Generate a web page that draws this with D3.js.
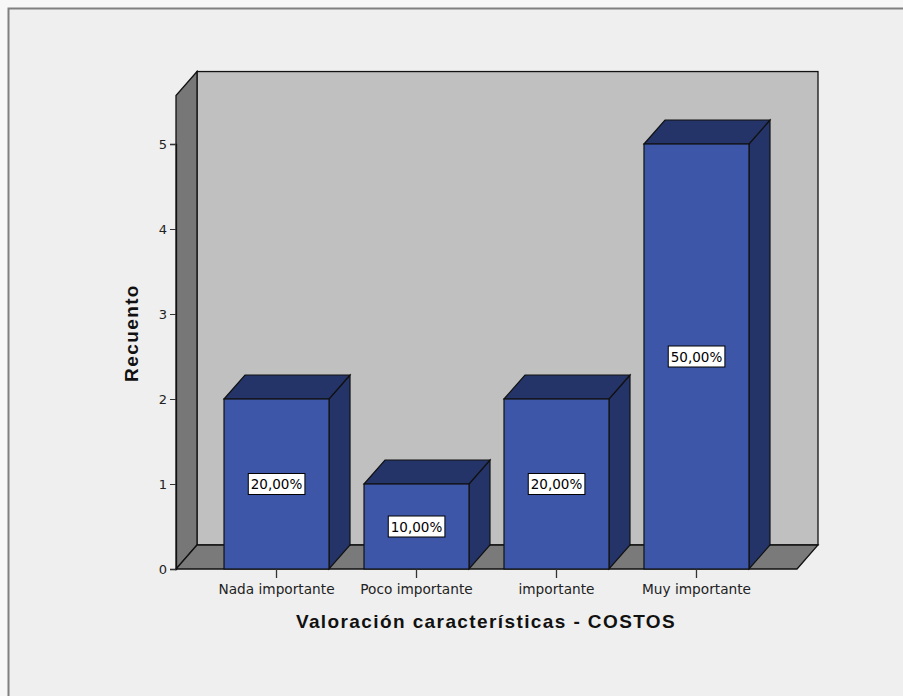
<!DOCTYPE html>
<html>
<head>
<meta charset="utf-8">
<script src="https://cdn.jsdelivr.net/npm/d3@7/dist/d3.min.js"></script>
<style>
  html, body { margin: 0; padding: 0; background: #f7f7f7; }
  svg { display: block; font-family: "DejaVu Sans", Verdana, sans-serif; }
</style>
</head>
<body>
<svg id="chart" width="903" height="696"></svg>
<script>
// Valoración características - COSTOS: recuento por categoría
const categories = ["Nada importante", "Poco importante", "importante", "Muy importante"];
const counts = [2, 1, 2, 5];
const percentLabels = ["20,00%", "10,00%", "20,00%", "50,00%"];
const yTicks = [0, 1, 2, 3, 4, 5];

const FONT = "DejaVu Sans, Verdana, sans-serif";
const TITLE_FONT = "Liberation Sans, Arial, sans-serif";
const svg = d3.select("#chart");

// outer panel
svg.append("rect").attr("x", 8.5).attr("y", 8.5).attr("width", 900).attr("height", 700)
  .attr("fill", "#efefef").attr("stroke", "#808080").attr("stroke-width", 2);

// plot frame (front plane) and 3D depth offset
const x0 = 176, x1 = 797, yBase = 569;
const dx = 21, dy = -24;

const y = d3.scaleLinear().domain([0, 5]).range([yBase, 144]);
const yTop = y(5.57); // top of the walls
const x = d3.scaleBand().domain(categories).range([x0, x1]).paddingInner(0.25).paddingOuter(0.343);

const line = "#111";

// back wall
svg.append("rect").attr("x", x0 + dx).attr("y", yTop + dy)
  .attr("width", x1 - x0).attr("height", yBase - yTop)
  .attr("fill", "#c0c0c0").attr("stroke", line).attr("stroke-width", 1.3);

// left wall
svg.append("path")
  .attr("d", `M${x0},${yBase} L${x0},${yTop} L${x0 + dx},${yTop + dy} L${x0 + dx},${yBase + dy} Z`)
  .attr("fill", "#777777").attr("stroke", line).attr("stroke-width", 1.3);

// floor
svg.append("path")
  .attr("d", `M${x0},${yBase} L${x1},${yBase} L${x1 + dx},${yBase + dy} L${x0 + dx},${yBase + dy} Z`)
  .attr("fill", "#7a7a7a").attr("stroke", line).attr("stroke-width", 1.3);

// bars
const bw = x.bandwidth();
const bars = svg.append("g").selectAll("g").data(categories).join("g");
bars.each(function(c, i) {
  const g = d3.select(this);
  const bx = x(c), top = y(counts[i]);
  // right side face
  g.append("path")
    .attr("d", `M${bx + bw},${yBase} L${bx + bw},${top} L${bx + bw + dx},${top + dy} L${bx + bw + dx},${yBase + dy} Z`)
    .attr("fill", "#243468").attr("stroke", line).attr("stroke-width", 1.2);
  // top face
  g.append("path")
    .attr("d", `M${bx},${top} L${bx + dx},${top + dy} L${bx + bw + dx},${top + dy} L${bx + bw},${top} Z`)
    .attr("fill", "#243468").attr("stroke", line).attr("stroke-width", 1.2);
  // front face
  g.append("rect").attr("x", bx).attr("y", top).attr("width", bw).attr("height", yBase - top)
    .attr("fill", "#3d56a8").attr("stroke", line).attr("stroke-width", 1.2);
});

// value labels
bars.each(function(c, i) {
  const g = d3.select(this);
  const cx = x(c) + bw / 2;
  const cy = (y(counts[i]) + yBase) / 2;
  const t = g.append("text").attr("x", cx).attr("y", cy + 5)
    .attr("text-anchor", "middle").attr("font-size", 13.5).attr("fill", "#000")
    .attr("font-family", FONT)
    .text(percentLabels[i]);
  const bb = t.node().getBBox();
  g.insert("rect", "text").attr("x", bb.x - 2.5).attr("y", cy - 10.5)
    .attr("width", bb.width + 5).attr("height", 21)
    .attr("fill", "#fff").attr("stroke", "#000").attr("stroke-width", 1);
});

// y axis
const yAxis = svg.append("g").attr("transform", `translate(${x0},0)`)
  .call(d3.axisLeft(y).tickValues(yTicks).tickFormat(d3.format("d")).tickSize(6).tickPadding(3));
yAxis.select(".domain").attr("stroke", line).attr("stroke-width", 1.3);
yAxis.selectAll(".tick line").attr("stroke", "#333");
yAxis.selectAll(".tick text").attr("font-size", 13).attr("fill", "#222")
  .attr("font-family", FONT);

// x axis
const xAxis = svg.append("g").attr("transform", `translate(0,${yBase})`)
  .call(d3.axisBottom(x).tickSize(9).tickPadding(6));
xAxis.select(".domain").remove();
xAxis.selectAll(".tick line").attr("stroke", "#333").attr("stroke-width", 1.3);
xAxis.selectAll(".tick text").attr("font-size", 13.7).attr("fill", "#222")
  .attr("font-family", FONT);

// axis titles
svg.append("text").attr("x", 486).attr("y", 628).attr("text-anchor", "middle")
  .attr("font-size", 19).attr("font-weight", "bold").attr("fill", "#111")
  .attr("letter-spacing", 1.4).attr("font-family", TITLE_FONT)
  .text("Valoración características - COSTOS");
svg.append("text").attr("transform", `translate(138,333) rotate(-90)`).attr("text-anchor", "middle")
  .attr("font-size", 19).attr("font-weight", "bold").attr("fill", "#111")
  .attr("letter-spacing", 1.4).attr("font-family", TITLE_FONT)
  .text("Recuento");
</script>
</body>
</html>
